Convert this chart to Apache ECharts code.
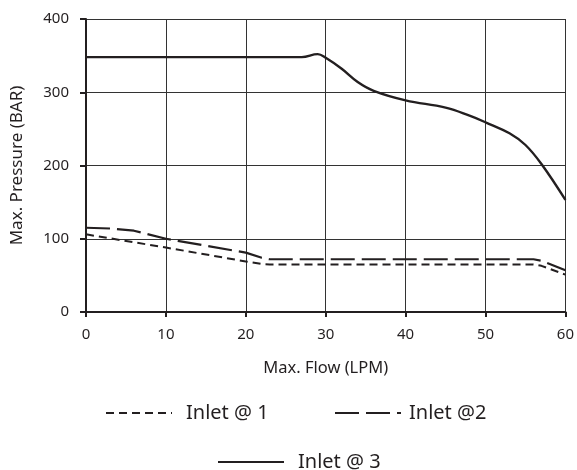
<!DOCTYPE html>
<html>
<head>
<meta charset="utf-8">
<script src="https://cdn.jsdelivr.net/npm/echarts@6/dist/echarts.min.js"></script>
<style>
  html, body { margin: 0; padding: 0; background: #fff; }
  #main { width: 577px; height: 470px; }
</style>
</head>
<body>
<div id="main"></div>
<script>
const xTicks = [0, 10, 20, 30, 40, 50, 60]
const yTicks = [0, 100, 200, 300, 400]

// [flow LPM, pressure BAR]
const inlet1 = [[0, 106], [10, 88], [20, 69], [22, 65.5], [23, 65], [56, 65], [57, 63], [60, 51]]
const inlet2 = [[0, 115], [3, 114], [6, 111], [10, 100], [20, 81], [22, 74], [23, 72], [56, 72], [57, 70], [60, 57]]
const inlet3 = [[0, 348], [27, 348], [29, 352], [30, 347], [32, 332], [34, 314], [36, 302],
    [40, 289], [45, 279], [48, 268], [50, 259], [53, 244], [55, 228], [57, 202], [60, 153]]

const font = 'Noto Sans'
const ink = '#231f20'

const legendBase = {
    itemWidth: 66,
    itemHeight: 14,
    itemStyle: { opacity: 0 },
    textStyle: { fontFamily: font, fontSize: 20, color: ink },
}

echarts.init(document.getElementById('main')).setOption({
    animation: false,
    grid: { left: 86, right: 9, top: 19, bottom: 158 },
    xAxis: {
        type: 'value',
        min: xTicks[0],
        max: xTicks[xTicks.length - 1],
        interval: 10,
        name: 'Max. Flow (LPM)',
        nameLocation: 'middle',
        nameGap: 48,
        nameTextStyle: { fontFamily: font, fontSize: 16.5, color: ink },
        axisLine: { lineStyle: { color: ink, width: 2 } },
        axisTick: { length: 5, lineStyle: { color: ink, width: 2 } },
        axisLabel: { fontFamily: font, fontSize: 15, color: ink, margin: 15 },
        splitLine: { show: true, lineStyle: { color: '#333', width: 1 } },
    },
    yAxis: {
        type: 'value',
        min: yTicks[0],
        max: yTicks[yTicks.length - 1],
        interval: 100,
        name: 'Max. Pressure (BAR)',
        nameLocation: 'middle',
        nameGap: 60,
        nameTextStyle: { fontFamily: font, fontSize: 17, color: ink },
        axisLine: { show: true, lineStyle: { color: ink, width: 2 } },
        axisTick: { show: true, length: 6, lineStyle: { color: ink, width: 2 } },
        axisLabel: { fontFamily: font, fontSize: 15, color: ink, margin: 17 },
        splitLine: { show: true, lineStyle: { color: '#333', width: 1 } },
    },
    legend: [
        { ...legendBase, data: ['Inlet @ 1'], left: 100, top: 398,
            textStyle: { ...legendBase.textStyle, padding: [0, 0, 0, 9] } },
        { ...legendBase, data: ['Inlet @2'], left: 329, top: 398,
            textStyle: { ...legendBase.textStyle, padding: [0, 0, 0, 3] } },
        { ...legendBase, data: ['Inlet @ 3'], left: 212, top: 447,
            textStyle: { ...legendBase.textStyle, padding: [0, 0, 0, 9] } },
    ],
    series: [
        {
            name: 'Inlet @ 1', type: 'line', data: inlet1,
            symbol: 'none',
            lineStyle: { color: ink, width: 2, type: [8, 5] },
        },
        {
            name: 'Inlet @2', type: 'line', data: inlet2,
            symbol: 'none',
            lineStyle: { color: ink, width: 2.2, type: [24, 7] },
        },
        {
            name: 'Inlet @ 3', type: 'line', data: inlet3,
            symbol: 'none', smooth: 0.4,
            lineStyle: { color: ink, width: 2.4 },
        },
    ],
})
</script>
</body>
</html>
